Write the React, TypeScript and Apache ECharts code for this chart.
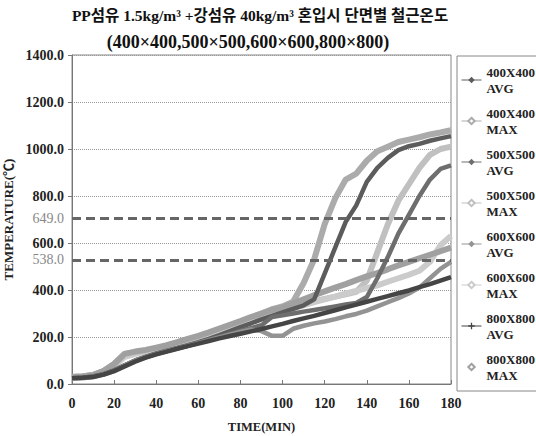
import React, { useEffect, useRef } from "react";
import * as echarts from "echarts";

const titleLine1 = "PP섬유 1.5kg/m³ +강섬유 40kg/m³ 혼입시 단면별 철근온도";
const titleLine2 = "(400×400,500×500,600×600,800×800)";
const xAxisName = "TIME(MIN)";
const yAxisName = "TEMPERATURE(℃)";

const times = [0, 5, 10, 15, 20, 25, 30, 35, 40, 45, 50, 55, 60, 65, 70, 75, 80, 85, 90, 95, 100, 105, 110, 115, 120, 125, 130, 135, 140, 145, 150, 155, 160, 165, 170, 175, 180];

const avg400 = [25, 27, 32, 42, 58, 80, 100, 115, 130, 142, 153, 165, 178, 192, 208, 225, 242, 258, 275, 290, 305, 320, 335, 360, 470, 580, 690, 760, 860, 920, 962, 995, 1012, 1022, 1035, 1045, 1055];
const max400 = [30, 32, 38, 55, 85, 128, 135, 140, 150, 160, 172, 185, 198, 212, 228, 245, 262, 280, 300, 318, 330, 350, 430, 530, 680, 790, 870, 895, 950, 990, 1010, 1030, 1040, 1050, 1062, 1070, 1080];
const avg500 = [25, 27, 32, 42, 58, 80, 100, 115, 128, 140, 152, 163, 175, 188, 200, 213, 226, 238, 250, 285, 292, 300, 308, 315, 322, 330, 338, 345, 370, 450, 540, 640, 720, 800, 870, 915, 930];
const max500 = [30, 32, 38, 55, 82, 120, 132, 140, 148, 158, 168, 180, 195, 210, 225, 240, 258, 275, 292, 305, 318, 330, 342, 352, 362, 372, 382, 392, 440, 560, 680, 780, 850, 920, 975, 1000, 1010];
const avg600 = [22, 24, 30, 40, 55, 78, 98, 113, 127, 140, 151, 162, 174, 186, 198, 210, 222, 232, 225, 205, 205, 235, 248, 258, 266, 276, 288, 298, 312, 330, 348, 365, 385, 410, 450, 490, 520];
const max600 = [30, 32, 38, 52, 78, 115, 128, 138, 148, 158, 168, 180, 192, 206, 220, 235, 250, 265, 280, 295, 308, 322, 335, 348, 360, 372, 385, 396, 408, 420, 435, 450, 465, 482, 520, 590, 630];
const avg800 = [25, 27, 30, 40, 55, 75, 95, 112, 126, 138, 150, 161, 172, 183, 194, 204, 214, 224, 234, 245, 256, 268, 279, 290, 302, 314, 326, 338, 350, 362, 374, 386, 398, 412, 425, 440, 455];
const max800 = [30, 32, 38, 55, 85, 128, 138, 145, 155, 165, 178, 192, 205, 220, 236, 252, 268, 285, 300, 315, 325, 342, 360, 378, 394, 410, 425, 442, 458, 472, 488, 505, 520, 535, 550, 565, 580];

const seriesNames = ["400X400\nAVG", "400X400\nMAX", "500X500\nAVG", "500X500\nMAX", "600X600\nAVG", "600X600\nMAX", "800X800\nAVG", "800X800\nMAX"];
const seriesValues = [avg400, max400, avg500, max500, avg600, max600, avg800, max800];
const seriesColors = ["#5c5c5c", "#ababab", "#6e6e6e", "#c0c0c0", "#939393", "#cbcbcb", "#454545", "#a0a0a0"];
const seriesIsMax = [false, true, false, true, false, true, false, true];

// reference dashed lines (drawn positions on the y scale) and their printed labels
const refLineY = [705, 528];
const refLineLabels = ["649.0", "538.0"];

const FONT = "'Liberation Serif', 'Noto Sans CJK KR', serif";
const PLUS = "path://M4,0H6V4H10V6H6V10H4V6H0V4H4Z";

export default function App() {
  const ref = useRef<HTMLDivElement>(null);
  useEffect(() => {
    if (!ref.current) return;
    const chart = echarts.init(ref.current, null, { renderer: "svg" });
    const series: any[] = seriesNames.map((name, i) => ({
      name,
      type: "line",
      data: times.map((t, k) => [t, seriesValues[i][k]]),
      showSymbol: false,
      symbol: i === 6 ? PLUS : seriesIsMax[i] ? "emptyDiamond" : "diamond",
      symbolSize: 7,
      color: seriesColors[i],
      lineStyle: { width: seriesIsMax[i] ? 6 : 4.5, color: seriesColors[i] },
      z: seriesIsMax[i] ? 2 : 3,
    }));
    series.push({
      name: "ref",
      type: "line",
      data: [],
      markLine: {
        silent: true,
        symbol: ["none", "none"],
        lineStyle: { type: [9, 5], width: 3, color: "#666" },
        label: {
          position: "start",
          distance: 8,
          color: "#888",
          fontFamily: FONT,
          fontSize: 14,
          formatter: (p: any) => refLineLabels[p.dataIndex],
        },
        data: refLineY.map((y) => ({ yAxis: y })),
      },
    });
    chart.setOption({
      animation: false,
      backgroundColor: "#fff",
      title: [
        {
          text: titleLine1,
          left: 260,
          textAlign: "center",
          top: 3,
          padding: 0,
          textStyle: { fontFamily: FONT, fontSize: 15.5, fontWeight: "bold", color: "#111", lineHeight: 24 },
        },
        {
          text: titleLine2,
          left: 248,
          textAlign: "center",
          top: 30,
          padding: 0,
          textStyle: { fontFamily: FONT, fontSize: 18, fontWeight: "bold", color: "#111", lineHeight: 24 },
        },
      ],
      grid: { left: 72, right: 85, top: 55, bottom: 52, show: true, borderColor: "#888", borderWidth: 1, outerBoundsMode: "none", containLabel: false },
      legend: {
        orient: "vertical",
        left: 457,
        top: 56,
        width: 90,
        height: 329,
        padding: [8, 20, 8, 4],
        itemGap: 9,
        itemWidth: 20,
        itemHeight: 8,
        borderColor: "#888",
        borderWidth: 1,
        lineStyle: { width: 1 },
        textStyle: { fontFamily: FONT, fontSize: 13, fontWeight: "bold", color: "#222", lineHeight: 16 },
        data: seriesNames.map((n, i) => (i === 7 ? { name: n, lineStyle: { opacity: 0 } } : { name: n })),
      },
      xAxis: {
        type: "value",
        min: 0,
        max: 180,
        interval: 20,
        name: xAxisName,
        nameLocation: "middle",
        nameGap: 37,
        nameTextStyle: { fontFamily: FONT, fontSize: 12.5, fontWeight: "bold", color: "#222" },
        axisLine: { lineStyle: { color: "#777" } },
        axisTick: { inside: true, length: 4, lineStyle: { color: "#777" } },
        axisLabel: { fontFamily: FONT, fontSize: 14, fontWeight: "bold", color: "#222", margin: 12 },
        splitLine: { show: false },
      },
      yAxis: {
        type: "value",
        min: 0,
        max: 1400,
        interval: 200,
        name: yAxisName,
        nameLocation: "middle",
        nameGap: 55,
        nameTextStyle: { fontFamily: FONT, fontSize: 13, fontWeight: "bold", color: "#222" },
        axisLine: { show: true, lineStyle: { color: "#777" } },
        axisTick: { show: true, length: 4, lineStyle: { color: "#777" } },
        axisLabel: { fontFamily: FONT, fontSize: 14, fontWeight: "bold", color: "#222", margin: 8, formatter: (v: number) => v.toFixed(1) },
        splitLine: { show: true, lineStyle: { type: "dotted", color: "#999" } },
      },
      series,
    });
    return () => chart.dispose();
  }, []);
  return <div ref={ref} style={{ position: "absolute", left: 0, top: 0, width: 536, height: 436 }} />;
}
